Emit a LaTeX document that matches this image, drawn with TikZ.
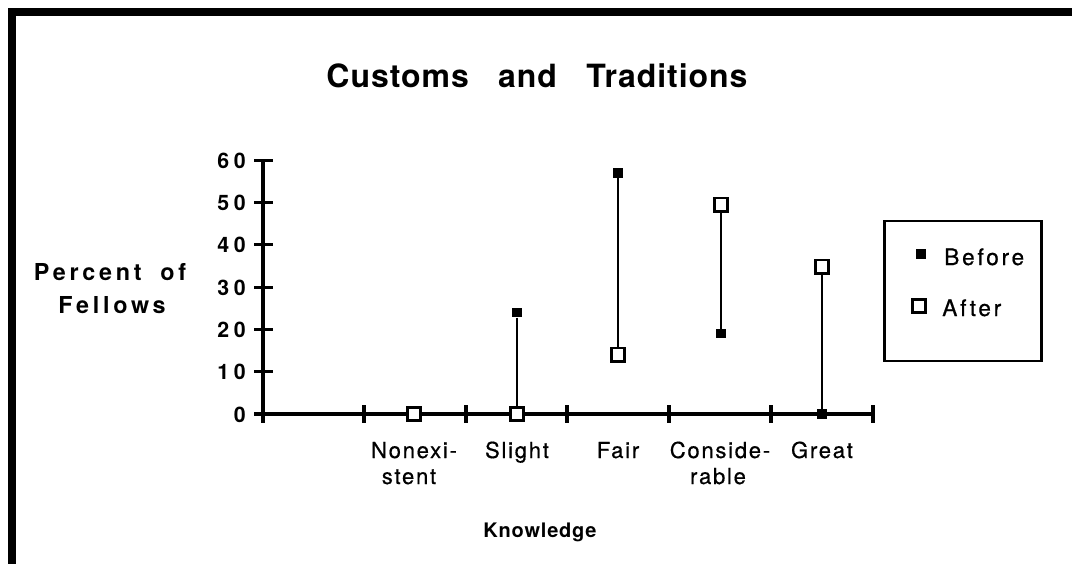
\documentclass[tikz,border=0pt]{standalone}
\usepackage{fontspec}
\setmainfont{TeX Gyre Heros}
\newfontfamily\fttitle[LetterSpace=3]{TeX Gyre Heros}
\newfontfamily\ftcat[LetterSpace=8,FakeBold=0.6]{TeX Gyre Heros}
\newfontfamily\ftleg[LetterSpace=12,FakeBold=0.6]{TeX Gyre Heros}
\newfontfamily\ftylab[LetterSpace=16]{TeX Gyre Heros}
\newfontfamily\ftxlab[LetterSpace=4]{TeX Gyre Heros}
\newfontfamily\fttick[LetterSpace=22]{TeX Gyre Heros}
\begin{document}
\begin{tikzpicture}[x=0.75pt,y=-0.75pt,
  axisline/.style={line width=2.3pt},
  conn/.style={line width=2pt},
  aftermark/.style={draw, fill=white, line width=2pt, minimum size=10pt, inner sep=0pt},
  beforemark/.style={fill=black, minimum size=7.2pt, inner sep=0pt},
  ticklab/.style={anchor=base east, inner sep=0pt, font=\fttick\bfseries\fontsize{16}{19}\selectfont},
  catlab/.style={anchor=base, inner sep=0pt, font=\ftcat\fontsize{16.5}{20}\selectfont},
  ylab/.style={anchor=base, inner sep=0pt, font=\ftylab\bfseries\fontsize{17.5}{21}\selectfont},
  xlab/.style={anchor=base, inner sep=0pt, font=\ftxlab\bfseries\fontsize{15}{18}\selectfont},
  leglab/.style={anchor=base west, inner sep=0pt, font=\ftleg\fontsize{17}{20}\selectfont}]
\useasboundingbox (0,0) rectangle (1072,564);
% frame
\draw[line width=6pt, line join=miter] (12,564) -- (12,12) -- (1072,12);
% title
\node[anchor=base, inner sep=0pt, font=\fttitle\bfseries\fontsize{24}{28}\selectfont] (title) at (537,87) {Customs\hspace{22pt}and\hspace{22pt}Traditions};
% axes
\draw[axisline] (263,160) -- (263,423);
\draw[axisline] (254,414) -- (873,414);
\foreach \v in {10,20,...,60} {
  \draw[axisline] (254,{414-4.23*\v}) -- (273,{414-4.23*\v});
}
\foreach \xx in {364,466,567,669,771,873} {
  \draw[axisline] (\xx,405) -- (\xx,423);
}
% tick labels
\foreach \v in {0,10,...,60} {
  \node[ticklab] (tl\v) at (246,{414-4.23*\v+8}) {\v};
}
% y label
\node[ylab] (ylab1) at (110,280) {Percent\hspace{14pt}of};
\node[ylab] (ylab2) at (112,313) {Fellows};
% category labels
\node[catlab] (c1a) at (414,458) {Nonexi-};
\node[catlab] (c1b) at (409,484) {stent};
\node[catlab] (c2) at (517,458) {Slight};
\node[catlab] (c3) at (618,458) {Fair};
\node[catlab] (c4a) at (720,458) {Conside-};
\node[catlab] (c4b) at (718,484) {rable};
\node[catlab] (c5) at (822,458) {Great};
\node[xlab] (xl) at (540,537) {Knowledge};
% data
\node[aftermark] (a1) at (414,414) {};
\node[beforemark] (b2) at (517,{414-4.23*24}) {};
\node[aftermark] (a2) at (517,414) {};
\node[beforemark] (b3) at (618,{414-4.23*57}) {};
\node[aftermark] (a3) at (618,{414-4.23*14}) {};
\node[beforemark] (b4) at (721,{414-4.23*19}) {};
\node[aftermark] (a4) at (721,{414-4.23*49.5}) {};
\node[beforemark] (b5) at (822,414) {};
\node[aftermark] (a5) at (822,{414-4.23*34.8}) {};
\draw[conn] (b2) -- (a2);
\draw[conn] (b3) -- (a3);
\draw[conn] (b4) -- (a4);
\draw[conn] (b5) -- (a5);
% legend
\node[draw, line width=2pt, minimum width=118pt, minimum height=105pt, inner sep=0pt] (legend) at (963,291) {};
\node[beforemark] (lb) at (921,254) {};
\node[aftermark] (la) at (919,306) {};
\node[leglab] (lbt) at (944,265) {Before};
\node[leglab] (lat) at (942,316) {After};
\end{tikzpicture}
\end{document}
